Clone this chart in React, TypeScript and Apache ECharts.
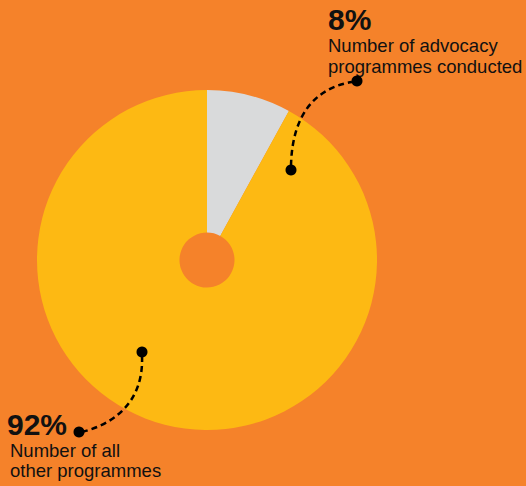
import React, { useEffect, useRef } from "react";
import * as echarts from "echarts";

const categories = ["Number of advocacy programmes conducted", "Number of all other programmes"];
const values = [8, 92];
const percentLabels = ["8%", "92%"];
const descLinesTop = ["Number of advocacy", "programmes conducted"];
const descLinesBottom = ["Number of all", "other programmes"];
const sliceColors = ["#D9DADB", "#FDB913"];

const FONT = "'Liberation Sans', Arial, Helvetica, sans-serif";

export default function App() {
  const ref = useRef<HTMLDivElement>(null);
  useEffect(() => {
    if (!ref.current) return;
    const chart = echarts.init(ref.current, null, { renderer: "svg" });
    const txt = (x: number, y: number, text: string, fs: number, bold: boolean) => ({
      type: "text",
      x,
      y,
      style: {
        text,
        fill: "#111111",
        font: `${bold ? "bold " : ""}${fs}px ${FONT}`,
        verticalAlign: "top",
        align: "left",
      },
      z: 10,
    });
    const dot = (cx: number, cy: number) => ({
      type: "circle",
      shape: { cx, cy, r: 5.5 },
      style: { fill: "#000000" },
      z: 11,
    });
    const dash = (x1: number, y1: number, cpx1: number, cpy1: number, cpx2: number, cpy2: number, x2: number, y2: number) => ({
      type: "bezierCurve",
      shape: { x1, y1, cpx1, cpy1, cpx2, cpy2, x2, y2 },
      style: { stroke: "#000000", lineWidth: 2.5, lineDash: [6, 4], fill: null },
      z: 10,
    });
    chart.setOption({
      animation: false,
      backgroundColor: "#F5822A",
      series: [
        {
          type: "pie",
          center: [207, 260],
          radius: [27.5, 170],
          startAngle: 90,
          clockwise: true,
          label: { show: false },
          labelLine: { show: false },
          emphasis: { disabled: true },
          itemStyle: { borderWidth: 0 },
          data: categories.map((name, i) => ({
            name,
            value: values[i],
            itemStyle: { color: sliceColors[i] },
          })),
        },
      ],
      graphic: [
        txt(328, 4.6, percentLabels[0], 30, true),
        txt(328, 36.3, descLinesTop[0], 18.5, false),
        txt(328, 57.3, descLinesTop[1], 18.5, false),
        txt(7, 409.6, percentLabels[1], 30, true),
        txt(10, 441.3, descLinesBottom[0], 18.5, false),
        txt(10, 461.3, descLinesBottom[1], 18.5, false),
        dash(291, 166, 292, 115, 315, 88, 352, 82),
        dot(291, 170),
        dot(357, 81),
        dash(142, 356, 144, 405, 110, 425, 82, 432),
        dot(142, 352),
        dot(79, 432),
      ],
    });
    return () => chart.dispose();
  }, []);
  return (
    <div
      ref={ref}
      style={{ position: "fixed", left: 0, top: 0, width: 526, height: 486 }}
    />
  );
}
